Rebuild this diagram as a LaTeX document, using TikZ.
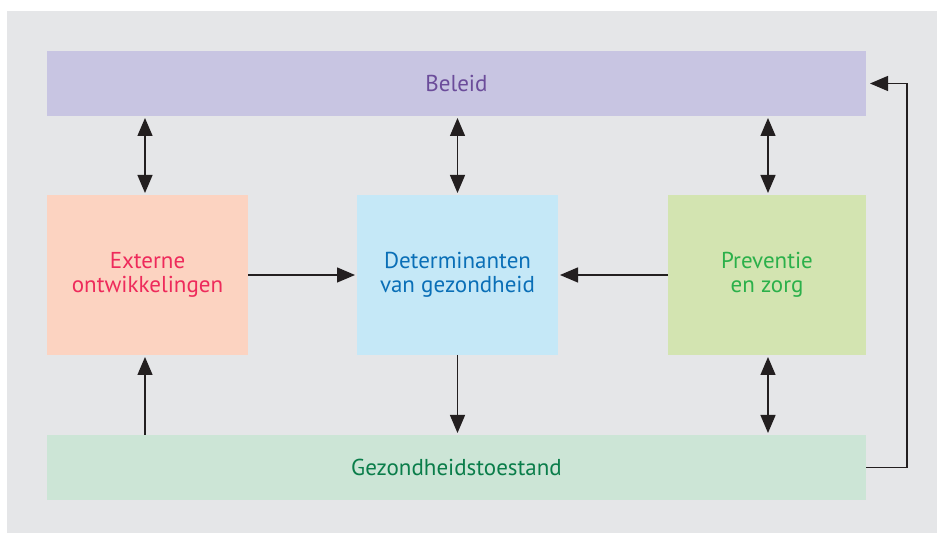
\documentclass[tikz,border=0pt]{standalone}
\usepackage{fontspec}
\setmainfont{PT Sans}
\usetikzlibrary{arrows.meta}
\definecolor{bg}{HTML}{E5E6E8}
\definecolor{belfill}{HTML}{C8C5E2}
\definecolor{beltext}{HTML}{6B4C9A}
\definecolor{extfill}{HTML}{FCD3C1}
\definecolor{exttext}{HTML}{EE2A5B}
\definecolor{detfill}{HTML}{C5E8F7}
\definecolor{dettext}{HTML}{0A6FB7}
\definecolor{prevfill}{HTML}{D3E4B1}
\definecolor{prevtext}{HTML}{2BB04A}
\definecolor{gezfill}{HTML}{CCE5D6}
\definecolor{geztext}{HTML}{0A7D4A}
\definecolor{linec}{HTML}{231F20}
\tikzset{
  boxnode/.style={inner sep=0pt, outer sep=0pt, align=center,
    font=\fontsize{23bp}{24.5bp}\selectfont},
  conn/.style={draw=linec, line width=1.3bp,
    -{Triangle[length=18bp,width=15bp]}, shorten >=2bp},
  dconn/.style={draw=linec, line width=1.3bp,
    {Triangle[length=18bp,width=15bp]}-{Triangle[length=18bp,width=15bp]},
    shorten >=2bp, shorten <=2bp},
}
\begin{document}
\begin{tikzpicture}[x=1bp,y=1bp]
\useasboundingbox (0,0) rectangle (937,533);
\fill[bg] (7,0) rectangle (937,522);
\node[boxnode, fill=belfill, text=beltext, minimum width=819bp, minimum height=65bp] (beleid) at (456.5,449.5) {Beleid};
\node[boxnode, fill=gezfill, text=geztext, minimum width=819bp, minimum height=65bp] (gez) at (456.5,65.5) {Gezondheidstoestand};
\node[boxnode, fill=extfill, text=exttext, minimum width=201bp, minimum height=160bp] (ext) at (147.5,258) {Externe\\ontwikkelingen};
\node[boxnode, fill=detfill, text=dettext, minimum width=201bp, minimum height=160bp] (det) at (457.5,258) {Determinanten\\van gezondheid};
\node[boxnode, fill=prevfill, text=prevtext, minimum width=198bp, minimum height=160bp] (prev) at (767,258) {Preventie\\en zorg};
\draw[dconn] ([xshift=-2.5bp]ext.north) -- ([xshift=-2.5bp]ext.north |- beleid.south);
\draw[dconn] (det.north) -- (det.north |- beleid.south);
\draw[dconn] ([xshift=1bp]prev.north) -- ([xshift=1bp]prev.north |- beleid.south);
\draw[conn] (ext.east) -- (det.west);
\draw[conn] (prev.west) -- (det.east);
\draw[conn] ([xshift=-2.5bp]ext.south |- gez.north) -- ([xshift=-2.5bp]ext.south);
\draw[conn] (det.south) -- (det.south |- gez.north);
\draw[dconn] ([xshift=1bp]prev.south) -- ([xshift=1bp]prev.south |- gez.north);
\draw[conn, shorten >=4bp] (gez.east) -- ++(41,0) |- (beleid.east);
\end{tikzpicture}
\end{document}
